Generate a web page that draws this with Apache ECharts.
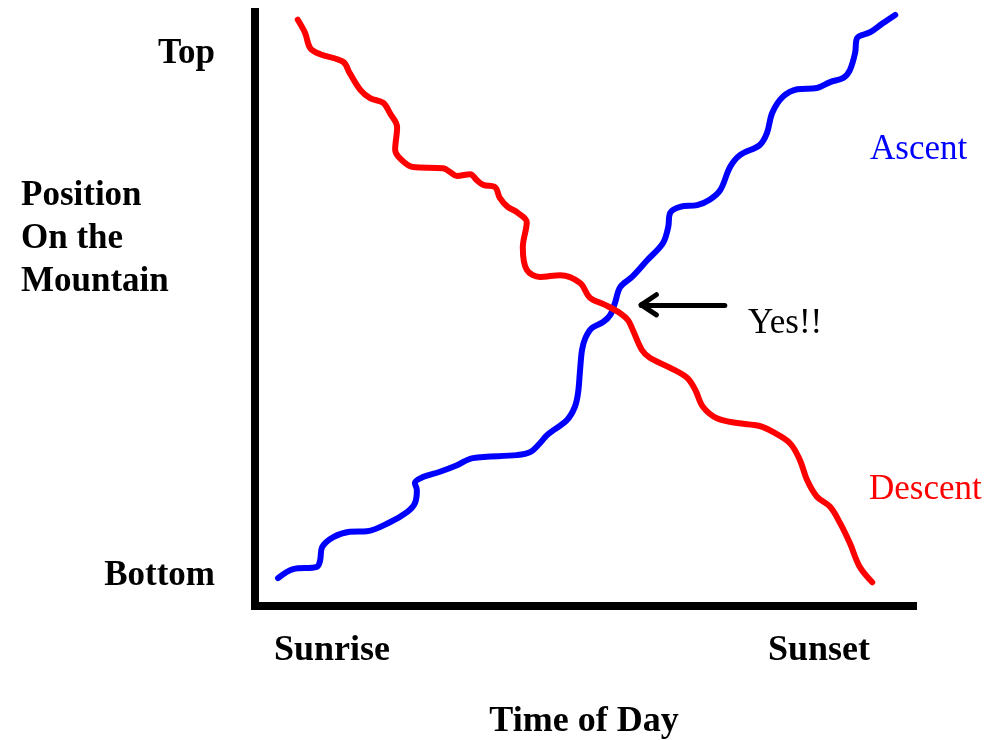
<!DOCTYPE html>
<html>
<head>
<meta charset="utf-8">
<script src="https://cdn.jsdelivr.net/npm/echarts@6/dist/echarts.min.js"></script>
<style>
  html, body { margin: 0; padding: 0; background: #fff; }
  #main { width: 996px; height: 740px; }
</style>
</head>
<body>
<div id="main"></div>
<script>
// time of day (0 = left end of axis, 100 = right end), position (0 = bottom, 100 = top)
var ascentX = [3.5, 5.8, 9.4, 9.9, 10.2, 11.9, 14.4, 17.0, 20.5, 23.1, 24.3, 24.6, 24.3, 25.5, 28.1, 30.7, 33.1, 39.8, 41.8, 43.3, 44.4, 47.4, 48.6, 49.1, 49.4, 49.7, 50.2, 51.2, 52.9, 54.0, 54.7, 55.5, 57.3, 59.6, 62.0, 62.8, 63.1, 64.6, 67.2, 69.1, 70.7, 72.2, 73.7, 76.7, 77.8, 78.6, 80.2, 82.4, 85.4, 87.4, 89.4, 90.4, 91.2, 91.5, 93.5, 95.4, 97.3]
var ascentY = [4.7, 6.2, 6.6, 7.7, 9.9, 11.6, 12.5, 12.6, 14.1, 15.8, 17.3, 19.5, 20.7, 21.7, 22.6, 23.7, 24.9, 25.4, 25.9, 27.4, 28.8, 31.3, 33.5, 35.9, 39.7, 43.1, 45.1, 46.8, 47.8, 49.0, 51.0, 53.7, 55.4, 58.2, 61.1, 63.8, 66.2, 67.2, 67.5, 68.4, 70.0, 73.9, 75.9, 77.6, 79.6, 83.0, 85.7, 87.0, 87.2, 88.2, 88.9, 90.2, 93.1, 95.6, 96.6, 98.1, 99.5]

var descentX = [6.5, 7.6, 8.4, 9.9, 13.4, 14.4, 16.0, 17.5, 19.5, 20.5, 21.6, 21.3, 22.0, 24.0, 28.6, 29.6, 30.7, 32.7, 33.7, 34.7, 36.5, 37.2, 38.4, 39.8, 41.3, 40.7, 41.3, 43.3, 46.4, 49.4, 50.9, 53.2, 55.5, 56.7, 57.4, 58.8, 60.0, 63.1, 65.7, 66.9, 68.1, 70.2, 73.3, 76.7, 78.7, 81.3, 82.8, 83.9, 85.4, 87.4, 88.9, 90.4, 91.9, 93.8]
var descentY = [98.7, 96.5, 93.9, 92.9, 91.6, 89.7, 86.9, 85.5, 84.7, 83.0, 80.6, 76.8, 75.4, 73.9, 73.7, 73.1, 72.4, 72.7, 71.7, 70.9, 70.5, 68.7, 67.2, 66.3, 64.6, 60.4, 56.6, 55.4, 55.7, 54.4, 51.9, 50.7, 49.3, 48.1, 46.5, 43.1, 41.8, 40.1, 38.4, 36.4, 33.5, 31.6, 30.8, 30.3, 29.3, 27.4, 24.6, 21.2, 18.4, 16.7, 14.0, 10.6, 6.6, 4.0]

var xTickValues = [11.7, 85.7]
var xTickLabels = ['Sunrise', 'Sunset']
var yTickValues = [5.0, 93.0]
var yTickLabels = ['Bottom', 'Top']

// arrow pointing at the crossing: tail, tip, and the two barbs
var arrowTail = [71.4, 50.7]
var arrowTip = [58.7, 50.7]
var arrowBarbs = [[61.0, 52.4], [61.0, 49.0]]

function zip(xs, ys) {
  return xs.map(function (x, i) { return [x, ys[i]] })
}

var chart = echarts.init(document.getElementById('main'))
var serif = '"Liberation Serif", "Times New Roman", serif'

chart.setOption({
  animation: false,
  backgroundColor: '#fff',
  grid: { left: 255, right: 83, top: 12, bottom: 134, outerBoundsMode: 'none' },
  title: {
    text: 'Position\nOn the\nMountain',
    left: 21,
    top: 174,
    padding: 0,
    textStyle: { fontFamily: serif, fontWeight: 'bold', fontSize: 35, lineHeight: 43, color: '#000' }
  },
  xAxis: {
    type: 'value', min: 0, max: 100,
    name: 'Time of Day', nameLocation: 'middle', nameGap: 98,
    nameTextStyle: { fontFamily: serif, fontWeight: 'bold', fontSize: 36, color: '#000' },
    axisLine: { lineStyle: { color: '#000', width: 8, cap: 'square' } },
    axisTick: { show: false },
    splitLine: { show: false },
    axisLabel: {
      customValues: xTickValues,
      margin: 27,
      fontFamily: serif, fontWeight: 'bold', fontSize: 36, color: '#000',
      formatter: function (v) { return xTickLabels[xTickValues.indexOf(v)] }
    }
  },
  yAxis: {
    type: 'value', min: 0, max: 100,
    axisLine: { lineStyle: { color: '#000', width: 8, cap: 'square' } },
    axisTick: { show: false },
    splitLine: { show: false },
    axisLabel: {
      customValues: yTickValues,
      margin: 40,
      fontFamily: serif, fontWeight: 'bold', fontSize: 35, color: '#000',
      formatter: function (v) { return yTickLabels[yTickValues.indexOf(v)] }
    }
  },
  graphic: [
    { type: 'text', left: 870, top: 132, style: { text: 'Ascent', font: '35px ' + serif, fill: '#0000ff' } },
    { type: 'text', left: 869, top: 472, style: { text: 'Descent', font: '35px ' + serif, fill: '#ff0000' } },
    { type: 'text', left: 748, top: 306, style: { text: 'Yes!!', font: '35px ' + serif, fill: '#000' } }
  ],
  series: [
    {
      name: 'Ascent',
      type: 'line',
      data: zip(ascentX, ascentY),
      smooth: 0.35,
      showSymbol: false,
      lineStyle: { color: '#0000ff', width: 6, cap: 'round', join: 'round' }
    },
    {
      name: 'Descent',
      type: 'line',
      data: zip(descentX, descentY),
      smooth: 0.35,
      showSymbol: false,
      lineStyle: { color: '#ff0000', width: 6, cap: 'round', join: 'round' },
      markLine: {
        silent: true,
        symbol: ['none', 'none'],
        label: { show: false },
        lineStyle: { color: '#000', width: 5, type: 'solid', cap: 'round' },
        data: [
          [{ coord: arrowTail }, { coord: arrowTip }],
          [{ coord: arrowTip }, { coord: arrowBarbs[0] }],
          [{ coord: arrowTip }, { coord: arrowBarbs[1] }]
        ]
      }
    }
  ]
})
</script>
</body>
</html>
